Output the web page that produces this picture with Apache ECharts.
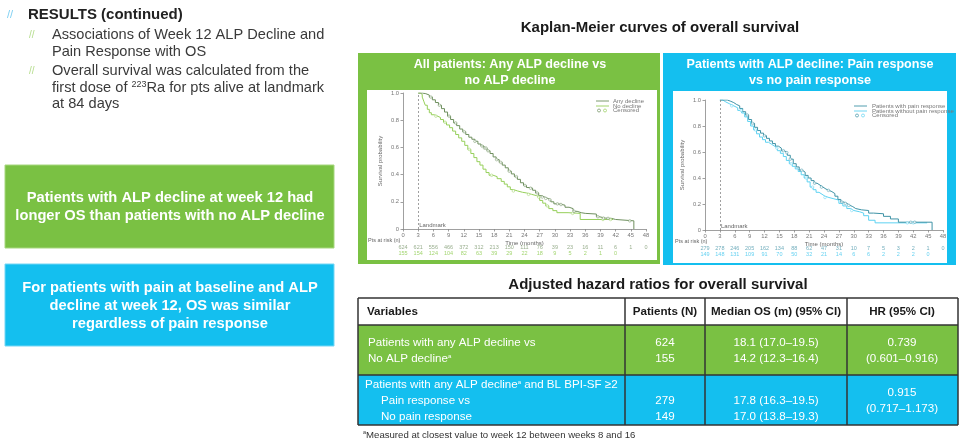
<!DOCTYPE html>
<html><head><meta charset="utf-8">
<script src="https://cdn.jsdelivr.net/npm/echarts@6/dist/echarts.min.js"></script>
<style>html,body{margin:0;padding:0;background:#fff}#c{width:977px;height:444px}</style>
</head><body><div id="c"></div>
<script>
// ---------- DATA ----------
const riskTimes = [0,3,6,9,12,15,18,21,24,27,30,33,36,39,42,45,48];
const riskAnyDecline = [624,621,556,466,372,312,213,150,111,76,39,23,16,11,6,1,0];
const riskNoDecline  = [155,154,124,104,82,63,39,29,22,18,9,5,2,1,0];
const riskPainResp   = [279,278,246,205,162,134,88,62,47,31,10,7,5,3,2,1,0];
const riskNoPainResp = [149,148,131,109,91,70,50,32,21,14,6,6,2,2,2,0];

const kmAnyDecline = [[3,1.0],[3.8,0.995],[4.5,0.985],[5.2,0.97],[5.8,0.95],[6.4,0.93],[7,0.91],[7.6,0.885],[8.2,0.86],[8.8,0.83],[9.4,0.805],[10,0.78],[10.6,0.76],[11.2,0.735],[11.8,0.715],[12.4,0.695],[13,0.675],[13.6,0.66],[14.2,0.645],[14.8,0.625],[15.4,0.61],[16,0.595],[16.6,0.575],[17.2,0.555],[17.8,0.53],[18.4,0.51],[19,0.49],[19.6,0.47],[20.2,0.45],[20.8,0.425],[21.4,0.405],[22,0.385],[22.6,0.365],[23.2,0.34],[23.8,0.32],[24.4,0.305],[25,0.3],[25.6,0.285],[26.2,0.265],[26.8,0.245],[27.4,0.235],[28,0.225],[28.6,0.215],[29.2,0.2],[29.8,0.185],[30.6,0.18],[31.4,0.175],[32,0.16],[32.8,0.15],[33.6,0.13],[34.4,0.12],[35.2,0.115],[36,0.11],[38.2,0.09],[38.8,0.08],[40,0.078],[41.2,0.07],[42,0.06],[45.6,0.0]];
const kmNoDecline = [[3,1.0],[3.4,0.99],[3.8,0.97],[4.1,0.94],[4.4,0.91],[4.8,0.88],[5.2,0.855],[5.6,0.84],[6.2,0.83],[6.8,0.82],[7.4,0.805],[8,0.785],[8.6,0.765],[9.2,0.745],[9.8,0.72],[10.4,0.695],[11,0.67],[11.6,0.645],[12.2,0.615],[12.8,0.585],[13.4,0.555],[14,0.525],[14.6,0.495],[15.2,0.47],[15.8,0.44],[16.4,0.415],[17,0.395],[17.8,0.385],[18.6,0.37],[19.4,0.35],[20,0.33],[20.6,0.31],[21.2,0.29],[21.8,0.28],[22.6,0.27],[23.6,0.265],[24.4,0.255],[25.4,0.245],[26.4,0.235],[27,0.21],[27.6,0.19],[28.2,0.17],[28.8,0.15],[29.6,0.135],[30.4,0.12],[32.6,0.115],[35,0.07],[41.5,0.07]];
const kmPainResp = [[3,1.0],[4.5,0.99],[5.2,0.98],[5.8,0.965],[6.4,0.955],[7,0.935],[7.6,0.91],[8.2,0.885],[8.8,0.85],[9.4,0.82],[10,0.79],[10.6,0.765],[11.2,0.745],[11.8,0.725],[12.4,0.705],[13,0.685],[13.6,0.665],[14.2,0.645],[14.8,0.63],[15.4,0.61],[16,0.595],[16.6,0.575],[17.2,0.545],[17.8,0.51],[18.4,0.485],[19,0.46],[19.6,0.445],[20.2,0.42],[20.8,0.4],[21.4,0.38],[22,0.36],[22.6,0.345],[23.2,0.33],[23.8,0.315],[24.4,0.305],[25,0.295],[25.6,0.28],[26.2,0.26],[26.8,0.235],[27.4,0.215],[28,0.205],[28.6,0.19],[29.2,0.18],[29.8,0.165],[30.4,0.155],[31.6,0.15],[33,0.13],[34,0.125],[36,0.105],[37.4,0.085],[39,0.06],[45.8,0.0]];
const kmNoPainResp = [[3,1.0],[3.6,0.985],[4.2,0.97],[5,0.955],[5.8,0.94],[6.6,0.92],[7.4,0.9],[8,0.87],[8.6,0.835],[9.2,0.8],[9.8,0.77],[10.4,0.74],[11,0.715],[11.6,0.695],[12.2,0.675],[12.8,0.66],[13.4,0.645],[14,0.63],[14.6,0.61],[15.2,0.59],[15.8,0.565],[16.4,0.535],[17,0.51],[17.6,0.49],[18.2,0.47],[18.8,0.45],[19.4,0.425],[20,0.4],[20.6,0.37],[21.2,0.33],[21.8,0.31],[22.4,0.29],[23,0.275],[23.6,0.26],[24.2,0.25],[25,0.24],[26,0.23],[27,0.205],[27.8,0.185],[28.6,0.165],[29.4,0.15],[30,0.14],[31.2,0.13],[32,0.11],[33,0.075],[34.3,0.055],[44.8,0.055]];

const censorAnyDecline = [5.5,7.2,9.1,10.4,12.1,14.2,15.6,16.1,16.4,16.8,18.5,19.3,21.0,22.4,24.1,25.2,26.5,27.5,28.2,29.0,30.5,31.2,33.8,38.5,39.6,40.5,44.8];
const censorNoDecline = [6.5,8.3,13.1,17.5,21.8,24.8,26.8,28.5,33.5,39.5,41.0];
const censorPainResp = [8.5,9.6,12.0,15.8,16.5,17.2,19.5,22.1,23.5,24.9,27.6,28.3,29.0,41.5,42.3];
const censorNoPainResp = [5.4,7.3,10.2,14.5,17.4,20.4,21.7,24.2,29.6,40.8,42.0];

const tableHeaders = ['Variables','Patients (N)','Median OS (m) (95% CI)','HR (95% CI)'];
const row1Vars = ['Patients with any ALP decline vs','No ALP decline'];
const row1N = ['624','155'];
const row1OS = ['18.1 (17.0\u201319.5)','14.2 (12.3\u201316.4)'];
const row1HR = ['0.739','(0.601\u20130.916)'];
const row2Vars = ['Patients with any ALP decline','Pain response vs','No pain response'];
const row2N = ['279','149'];
const row2OS = ['17.8 (16.3\u201319.5)','17.0 (13.8\u201319.3)'];
const row2HR = ['0.915','(0.717\u20131.173)'];

// ---------- HELPERS ----------
const FF = '"Liberation Sans", Arial, Helvetica, sans-serif';
const GREEN = '#7AC143', BLUE = '#14BFEF';
const C_ANY = '#6E8F5E', C_NO = '#96CF5A', C_PR = '#3F93A6', C_NPR = '#5DD2F2';
function survAt(curve, t){ let s = curve[0][1]; for (const p of curve){ if (p[0] <= t) s = p[1]; else break; } return s; }
function txt(x, y, text, o){
  o = o || {};
  return {type:'text', z: o.z || 5, silent:true, style:{x:x, y:y, text:text, fill:o.fill||'#333',
    fontSize:o.size||12, fontWeight:o.bold?'bold':'normal', fontFamily:FF,
    align:o.align||'left', textAlign:o.align||'left', verticalAlign:'middle', textVerticalAlign:'middle', rich:o.rich}};
}
function rect(x,y,w,h,fill,o){ o=o||{}; return {type:'rect', z:o.z!==undefined?o.z:-2, silent:true, shape:{x:x,y:y,width:w,height:h}, style:{fill:fill, stroke:o.stroke||null, lineWidth:o.lw||0}}; }
function line(x1,y1,x2,y2,color,w,z){ return {type:'line', z:z||3, silent:true, shape:{x1:x1,y1:y1,x2:x2,y2:y2}, style:{stroke:color,lineWidth:w||1}}; }
function circ(cx,cy,r,color){ return {type:'circle', z:4, silent:true, shape:{cx:cx,cy:cy,r:r}, style:{fill:'#fff',stroke:color,lineWidth:0.7}}; }
const supW = {s:{fontSize:6,fill:'#fff',fontFamily:FF,padding:[0,0,5,0]}};

const g = [];
// left text
const TXT = '#3a3a3a';
g.push(txt(7,15,'//',{fill:'#7FD0F2',size:11}));
g.push(txt(28,15,'RESULTS (continued)',{bold:true,size:15,fill:'#222'}));
g.push(txt(29,35,'//',{fill:'#B6DD8E',size:10}));
g.push(txt(52,35,'Associations of Week 12 ALP Decline and',{size:14.6,fill:TXT}));
g.push(txt(52,52,'Pain Response with OS',{size:14.6,fill:TXT}));
g.push(txt(29,71,'//',{fill:'#B6DD8E',size:10}));
g.push(txt(52,71,'Overall survival was calculated from the',{size:14.6,fill:TXT}));
g.push(txt(52,88,'first dose of {s|223}Ra for pts alive at landmark',{size:14.6,fill:TXT,rich:{s:{fontSize:9,fontFamily:FF,fill:TXT,padding:[0,0,6,0]}}}));
g.push(txt(52,104,'at 84 days',{size:14.6,fill:TXT}));
// message boxes
g.push(rect(5,165,329,83,GREEN,{stroke:'#A6D77F',lw:1}));
g.push(txt(170,198,'Patients with ALP decline at week 12 had',{bold:true,size:14.7,fill:'#fff',align:'center'}));
g.push(txt(170,216,'longer OS than patients with no ALP decline',{bold:true,size:14.7,fill:'#fff',align:'center'}));
g.push(rect(5,264,329,82,BLUE,{stroke:'#74D6F5',lw:1}));
g.push(txt(170,288,'For patients with pain at baseline and ALP',{bold:true,size:14.7,fill:'#fff',align:'center'}));
g.push(txt(170,306,'decline at week 12, OS was similar',{bold:true,size:14.7,fill:'#fff',align:'center'}));
g.push(txt(170,324,'regardless of pain response',{bold:true,size:14.7,fill:'#fff',align:'center'}));
// KM header
g.push(txt(660,28,'Kaplan-Meier curves of overall survival',{bold:true,size:15,fill:'#1a1a1a',align:'center'}));
// KM panels
g.push(rect(358,53,302,211,GREEN,{z:-3}));
g.push(rect(367,90,290,170,'#fff'));
g.push(txt(510,65,'All patients: Any ALP decline vs',{bold:true,size:12.6,fill:'#fff',align:'center'}));
g.push(txt(510,81,'no ALP decline',{bold:true,size:12.6,fill:'#fff',align:'center'}));
g.push(rect(663,53,293,212,BLUE,{z:-3}));
g.push(rect(673,91,274,172,'#fff'));
g.push(txt(810,65,'Patients with ALP decline: Pain response',{bold:true,size:12.6,fill:'#fff',align:'center'}));
g.push(txt(810,81,'vs no pain response',{bold:true,size:12.6,fill:'#fff',align:'center'}));
// at-risk labels
g.push(txt(368,240,'Pts at risk (n)',{size:5.5,fill:'#666'}));
g.push(txt(675,241,'Pts at risk (n)',{size:5.5,fill:'#666'}));
// legends
g.push(line(596,101,609,101,C_ANY,0.9)); g.push(txt(613,101,'Any decline',{size:6,fill:'#777'}));
g.push(line(596,106,609,106,C_NO,0.9)); g.push(txt(613,106,'No decline',{size:6,fill:'#777'}));
g.push(circ(599,110.5,1.5,C_ANY)); g.push(circ(605,110.5,1.5,C_NO)); g.push(txt(613,110.5,'Censored',{size:6,fill:'#777'}));
g.push(line(854,106,867,106,C_PR,0.9)); g.push(txt(872,106,'Patients with pain response',{size:6,fill:'#777'}));
g.push(line(854,111,867,111,C_NPR,0.9)); g.push(txt(872,111,'Patients without pain response',{size:6,fill:'#777'}));
g.push(circ(857,115.5,1.5,C_PR)); g.push(circ(863,115.5,1.5,C_NPR)); g.push(txt(872,115.5,'Censored',{size:6,fill:'#777'}));

// table
g.push(txt(658,285,'Adjusted hazard ratios for overall survival',{bold:true,size:15,fill:'#1a1a1a',align:'center'}));
const TL=358, TR=958, TY=[298,325,375,425], CX=[625,705,847];
g.push(rect(TL,TY[0],TR-TL,TY[1]-TY[0],'#fff'));
g.push(rect(TL,TY[1],TR-TL,TY[2]-TY[1],GREEN));
g.push(rect(TL,TY[2],TR-TL,TY[3]-TY[2],BLUE));
TY.forEach(y=>g.push(line(TL,y,TR,y,'#333',1.5)));
[TL,TR].concat(CX).forEach(x=>g.push(line(x,TY[0],x,TY[3],'#333',1.5)));
const colC=[665,776,902];
g.push(txt(367,312,tableHeaders[0],{bold:true,size:11.6,fill:'#1a1a1a'}));
for(let i=1;i<4;i++) g.push(txt(colC[i-1],312,tableHeaders[i],{bold:true,size:11.6,fill:'#1a1a1a',align:'center'}));
const W={size:11.6,fill:'#fff'}; const WC={size:11.6,fill:'#fff',align:'center'};
g.push(txt(368,343,row1Vars[0],W)); g.push(txt(368,359,row1Vars[1]+'{s|a}',Object.assign({rich:supW},W)));
g.push(txt(665,343,row1N[0],WC)); g.push(txt(665,359,row1N[1],WC));
g.push(txt(776,343,row1OS[0],WC)); g.push(txt(776,359,row1OS[1],WC));
g.push(txt(902,343,row1HR[0],WC)); g.push(txt(902,359,row1HR[1],WC));
g.push(txt(365,385,row2Vars[0]+'{s|a} and BL BPI-SF \u22652',Object.assign({rich:supW},W)));
g.push(txt(381,401,row2Vars[1],W)); g.push(txt(381,417,row2Vars[2],W));
g.push(txt(665,401,row2N[0],WC)); g.push(txt(665,417,row2N[1],WC));
g.push(txt(776,401,row2OS[0],WC)); g.push(txt(776,417,row2OS[1],WC));
g.push(txt(902,393,row2HR[0],WC)); g.push(txt(902,409,row2HR[1],WC));
g.push(txt(363,435,'{s|a}Measured at closest value to week 12 between weeks 8 and 16',{size:9.6,fill:'#333',rich:{s:{fontSize:5.5,fill:'#333',fontFamily:FF,padding:[0,0,5,0]}}}));

// ---------- CHART ----------
function kmXAxis(gi){ return {type:'value', gridIndex:gi, min:0, max:48, interval:3,
  name:'Time (months)', nameLocation:'middle', nameGap:11, nameTextStyle:{fontSize:6,color:'#666',fontFamily:FF},
  axisLine:{lineStyle:{color:'#888',width:0.8}}, axisTick:{length:2.5,lineStyle:{color:'#888',width:0.8}},
  axisLabel:{fontSize:5.8,color:'#777',margin:3.5,fontFamily:FF}, splitLine:{show:false}}; }
function kmYAxis(gi){ return {type:'value', gridIndex:gi, min:0, max:1, interval:0.2,
  name:'Survival probability', nameLocation:'middle', nameGap:20, nameTextStyle:{fontSize:6,color:'#666',fontFamily:FF},
  axisLine:{show:true,lineStyle:{color:'#888',width:0.8}}, axisTick:{show:true,length:2.5,lineStyle:{color:'#888',width:0.8}},
  axisLabel:{fontSize:5.8,color:'#777',margin:4,fontFamily:FF,formatter:v=>v===0?'0':v.toFixed(1)}, splitLine:{show:false}}; }
function riskX(gi){ return {type:'value', gridIndex:gi, min:0, max:48, show:false}; }
function riskY(gi){ return {type:'category', gridIndex:gi, data:['a','b'], inverse:true, show:false}; }
function kmLine(name, data, color, xi, withMark){
  const s = {name:name, type:'line', step:'end', xAxisIndex:xi, yAxisIndex:xi, data:data, showSymbol:false, symbol:'none',
    lineStyle:{color:color,width:1}, silent:true, z:3};
  if(withMark){
    s.markLine = {silent:true, symbol:'none', label:{show:false}, lineStyle:{color:'#888',type:[2,2],width:0.8}, data:[{xAxis:3}]};
    s.markPoint = {silent:true, symbol:'circle', symbolSize:0, data:[{coord:[3,0]}],
      label:{show:true, formatter:'Landmark', position:'right', distance:1, offset:[0,-4], fontSize:6, color:'#666', fontFamily:FF}};
  }
  return s;
}
function censor(times, curve, color, xi){
  return {type:'scatter', xAxisIndex:xi, yAxisIndex:xi, data:times.map(t=>[t, survAt(curve,t)]), symbol:'circle', symbolSize:2.6,
    itemStyle:{color:'#fff', borderColor:color, borderWidth:0.6}, silent:true, z:4};
}
function riskRow(values, row, color, xi){
  return {type:'scatter', xAxisIndex:xi, yAxisIndex:xi, data:values.map((v,i)=>[riskTimes[i], row, v]), symbol:'rect', symbolSize:1,
    itemStyle:{color:'rgba(0,0,0,0)'}, silent:true,
    label:{show:true, position:'inside', formatter:p=>String(p.data[2]), fontSize:5.5, color:color, fontFamily:FF}};
}

const chart = echarts.init(document.getElementById('c'), null, {renderer:'canvas'});
chart.setOption({
  backgroundColor:'#fff', animation:false,
  grid:[
    {left:403, top:93, width:243, height:136},
    {left:403, top:244, width:243, height:12},
    {left:705, top:100, width:238, height:130},
    {left:705, top:245, width:238, height:12}
  ],
  xAxis:[kmXAxis(0), riskX(1), kmXAxis(2), riskX(3)],
  yAxis:[kmYAxis(0), riskY(1), kmYAxis(2), riskY(3)],
  series:[
    kmLine('No decline', kmNoDecline, C_NO, 0, true),
    kmLine('Any decline', kmAnyDecline, C_ANY, 0, false),
    censor(censorNoDecline, kmNoDecline, C_NO, 0),
    censor(censorAnyDecline, kmAnyDecline, C_ANY, 0),
    riskRow(riskAnyDecline, 0, '#7E9A70', 1),
    riskRow(riskNoDecline, 1, '#8CCB4E', 1),
    kmLine('Without pain response', kmNoPainResp, C_NPR, 2, true),
    kmLine('With pain response', kmPainResp, C_PR, 2, false),
    censor(censorNoPainResp, kmNoPainResp, C_NPR, 2),
    censor(censorPainResp, kmPainResp, C_PR, 2),
    riskRow(riskPainResp, 0, '#4F9AAC', 3),
    riskRow(riskNoPainResp, 1, '#3EC6EE', 3)
  ],
  graphic:{elements:g}
});
</script></body></html>
